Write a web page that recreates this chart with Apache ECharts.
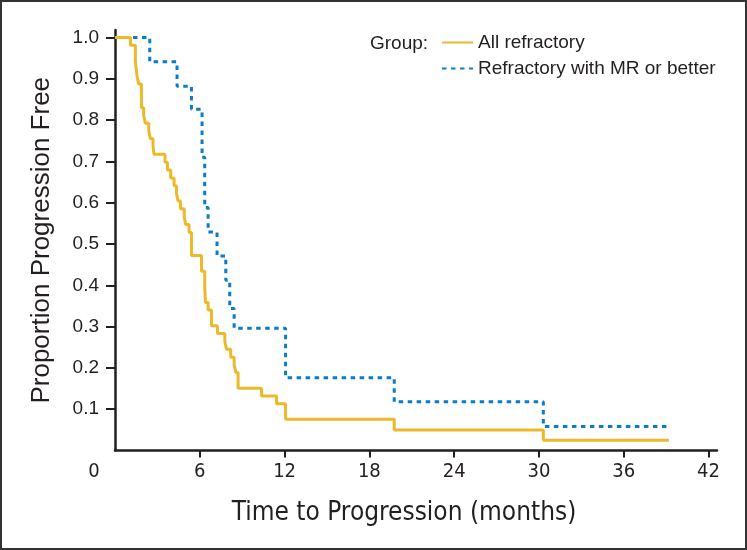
<!DOCTYPE html>
<html>
<head>
<meta charset="utf-8">
<script src="https://cdn.jsdelivr.net/npm/echarts@6/dist/echarts.min.js"></script>
<style>
  html, body { margin: 0; padding: 0; background: #fff; }
  #chart { width: 747px; height: 550px; }
</style>
</head>
<body>
<div id="chart"></div>
<script>
// months, proportion after each step
var allRefractory = [
    [0, 1.0], [1.09, 0.981], [1.44, 0.943], [1.56, 0.906], [1.68, 0.887],
    [1.87, 0.830], [2.03, 0.811], [2.15, 0.792], [2.39, 0.774], [2.50, 0.755],
    [2.69, 0.736], [2.76, 0.717], [3.54, 0.698], [3.71, 0.679], [3.94, 0.660],
    [4.18, 0.641], [4.35, 0.623], [4.46, 0.604], [4.63, 0.585], [4.90, 0.566],
    [5.00, 0.547], [5.24, 0.528], [5.41, 0.472], [6.12, 0.434], [6.35, 0.396],
    [6.40, 0.358], [6.59, 0.340], [6.83, 0.302], [7.25, 0.283], [7.77, 0.264],
    [7.89, 0.245], [8.19, 0.226], [8.43, 0.208], [8.55, 0.189], [8.71, 0.151],
    [10.37, 0.132], [11.43, 0.113], [12.07, 0.0755], [19.76, 0.0496],
    [30.31, 0.0247], [39.2, 0.0247]
];
var mrOrBetter = [
    [0, 1.0], [2.46, 0.941], [4.39, 0.882], [5.41, 0.826], [6.16, 0.710],
    [6.35, 0.588], [6.59, 0.529], [7.22, 0.471], [7.84, 0.412], [8.12, 0.344],
    [8.43, 0.296], [12.07, 0.176], [19.76, 0.118], [30.31, 0.058], [39.2, 0.058]
];
var xLabels = [0, 6, 12, 18, 24, 30, 36, 42];
var xTicks = [6, 12, 18, 24, 30, 36, 42];
var yTicks = [0.1, 0.2, 0.3, 0.4, 0.5, 0.6, 0.7, 0.8, 0.9, 1.0];

var ink = '#231F20';
var yellow = '#EBB92A';
var blue = '#0A7DC4';
var narrow = "'Liberation Sans Narrow', 'DejaVu Sans Condensed', 'Arial Narrow', sans-serif";
var plain = "'Liberation Sans', Arial, Helvetica, sans-serif";

var myChart = echarts.init(document.getElementById('chart'));
var option = {
    animation: false,
    backgroundColor: '#fff',
    title: {
        text: 'Group:',
        left: 370,
        top: 34,
        padding: 0,
        textStyle: { fontFamily: plain, fontSize: 19, fontWeight: 'normal', color: ink }
    },
    legend: {
        orient: 'vertical',
        left: 441,
        top: 33,
        padding: 0,
        itemWidth: 31,
        itemHeight: 14,
        itemGap: 7,
        itemStyle: { opacity: 0 },
        textStyle: { fontFamily: plain, fontSize: 19, color: ink },
        data: ['All refractory', 'Refractory with MR or better']
    },
    grid: {
        left: 115,
        right: 30,
        top: 30,
        bottom: 99.5,
        containLabel: false,
        outerBoundsMode: 'none'
    },
    xAxis: {
        type: 'value',
        min: 0,
        max: 42.6,
        name: 'Time to Progression (months)',
        nameLocation: 'middle',
        nameGap: 50,
        nameTextStyle: { fontFamily: narrow, fontSize: 26, color: ink, padding: [0, 24, 0, 0] },
        splitLine: { show: false },
        axisLine: { lineStyle: { color: ink, width: 2.5 } },
        axisTick: { customValues: xTicks, length: 7, lineStyle: { color: ink, width: 2 } },
        axisLabel: {
            customValues: xLabels,
            margin: 11,
            fontFamily: narrow,
            fontSize: 20,
            color: ink,
            formatter: function (v) {
                return v === 0 ? '{z|0}' : String(v);
            },
            rich: {
                z: { fontFamily: narrow, fontSize: 20, color: ink, padding: [0, 42, 0, 0] }
            }
        }
    },
    yAxis: {
        type: 'value',
        min: 0,
        max: 1.018,
        name: 'Proportion Progression Free',
        nameLocation: 'middle',
        nameGap: 60,
        nameTextStyle: { fontFamily: plain, fontSize: 26, color: ink },
        splitLine: { show: false },
        axisLine: { lineStyle: { color: ink, width: 2.5 } },
        axisTick: { customValues: yTicks, length: 9, lineStyle: { color: ink, width: 2 } },
        axisLabel: {
            customValues: yTicks,
            margin: 16,
            fontFamily: plain,
            fontSize: 19,
            color: ink,
            formatter: function (v) { return v.toFixed(1); }
        }
    },
    series: [
        {
            name: 'All refractory',
            type: 'line',
            step: 'end',
            symbol: 'none',
            data: allRefractory,
            z: 3,
            color: yellow,
            lineStyle: { color: yellow, width: 3 }
        },
        {
            name: 'Refractory with MR or better',
            type: 'line',
            step: 'end',
            symbol: 'none',
            data: mrOrBetter,
            z: 2,
            color: blue,
            lineStyle: { color: blue, width: 3, type: [4.5, 4.5] }
        }
    ],
    graphic: [{
        type: 'rect',
        shape: { x: 1, y: 1, width: 745, height: 548 },
        style: { fill: 'none', stroke: '#333', lineWidth: 2 },
        silent: true
    }]
};
myChart.setOption(option);
</script>
</body>
</html>
